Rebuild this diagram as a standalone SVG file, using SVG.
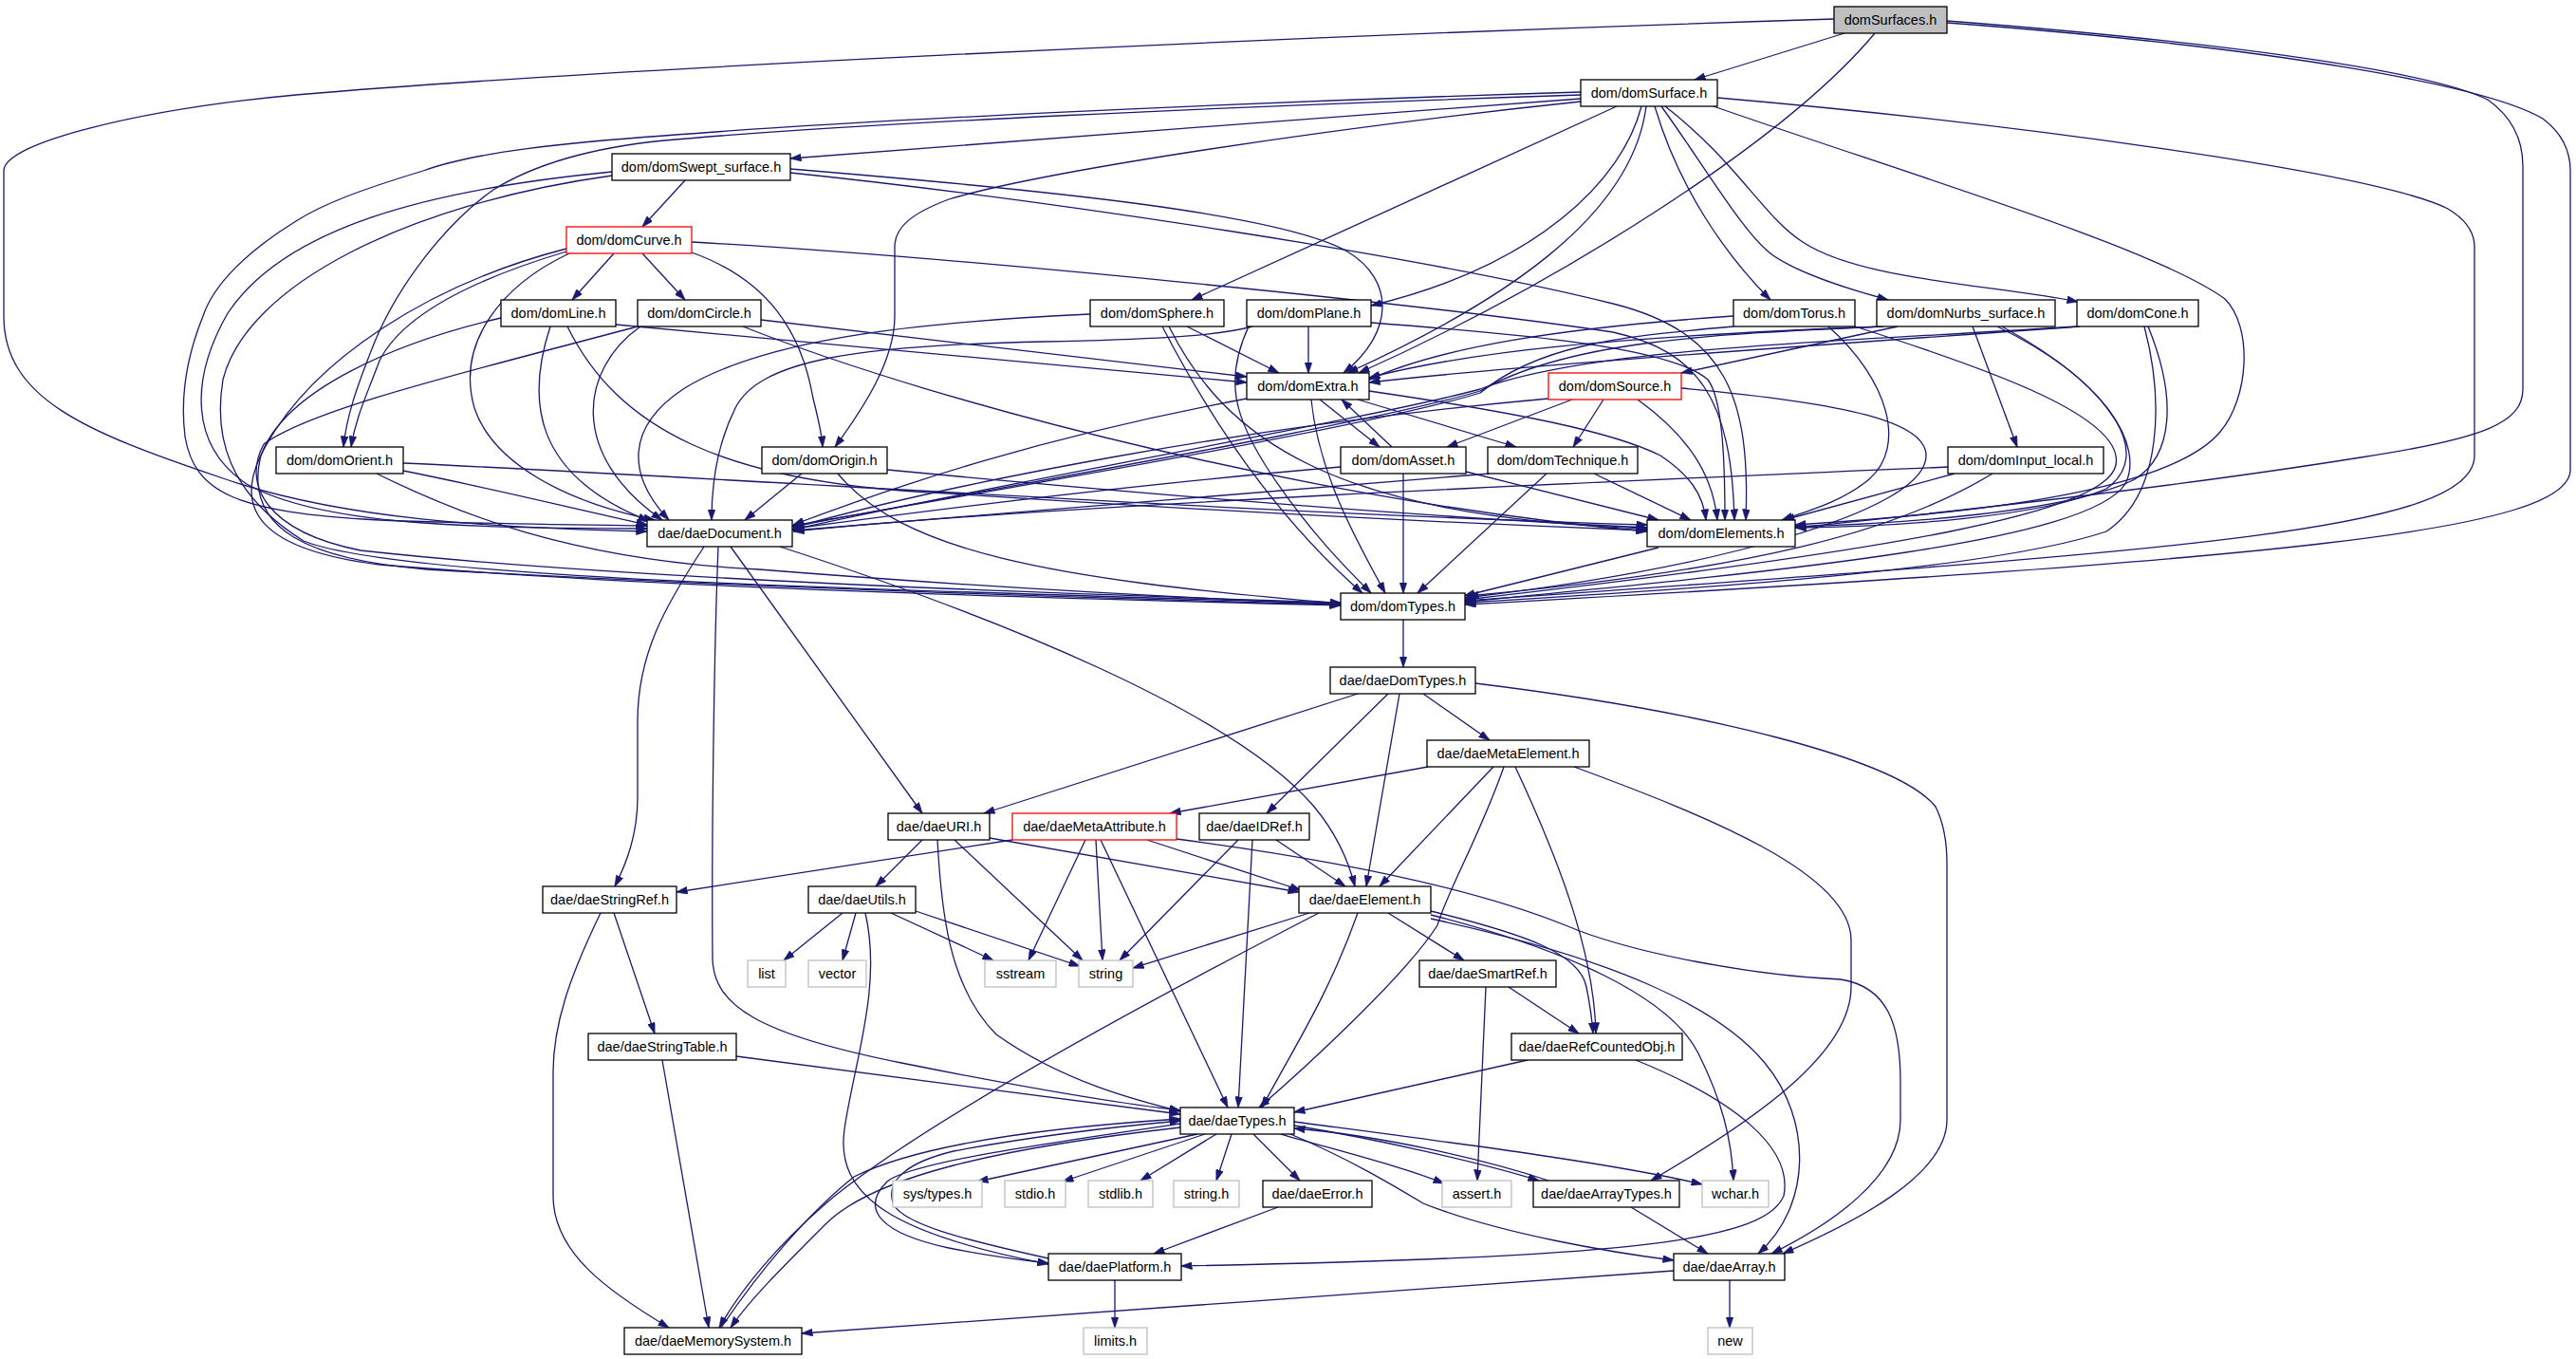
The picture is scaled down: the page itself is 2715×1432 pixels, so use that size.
<svg xmlns="http://www.w3.org/2000/svg" width="2715" height="1432" viewBox="0 0 2715 1432">
<defs>
<style>
.e{fill:none;stroke:#191970;stroke-width:1.3;marker-end:url(#a)}
.n rect{fill:#fff;stroke:#000;stroke-width:1.3}
.root rect{fill:#bfbfbf}
.red rect{stroke:#f00}
.sys rect{stroke:#bfbfbf}
text{font-family:"Liberation Sans",Arial,Helvetica,sans-serif;font-size:14.5px;text-anchor:middle;fill:#000}
</style>
<marker id="a" viewBox="0 0 12 8" refX="11.5" refY="4" markerWidth="12" markerHeight="8" markerUnits="userSpaceOnUse" orient="auto"><path d="M0,0 L12,4 L0,8 z" fill="#191970" stroke="#191970" stroke-width="0.5"/></marker>
</defs>
<rect width="2715" height="1432" fill="#fff"/>
<g id="edges">
<path class="e" d="M1944,35 L1786,84"/>
<path class="e" d="M1976,35 C1880,150 1640,300 1432,393"/>
<path class="e" d="M1933,20 C1300,40 600,75 312,100 C150,115 4,150 4,180 L4,333 C4,420 90,455 232,503 C360,548 520,556 682,560"/>
<path class="e" d="M2052,22 C2350,45 2560,75 2622,105 C2650,125 2659,150 2659,175 L2659,410 C2659,445 2620,462 2488,482 C2300,512 2050,540 1892,556"/>
<path class="e" d="M2052,24 C2400,50 2620,90 2680,125 C2700,140 2709,160 2709,180 L2709,495 C2709,560 2400,590 1544,637"/>
<path class="e" d="M1666,104 C1400,125 1100,145 833,167"/>
<path class="e" d="M1666,107 C1400,135 1100,180 1000,210 C960,225 943,240 943,260 L943,333 C943,380 910,430 880,471"/>
<path class="e" d="M1666,100 C1300,112 900,130 700,148 C620,156 560,175 520,200 C470,235 420,300 395,360 C375,410 365,440 362,471"/>
<path class="e" d="M1666,97 C1300,108 900,127 700,143 C600,150 500,160 446,180 C380,200 340,215 312,233 C260,265 225,300 214,333 C195,380 190,420 195,460 C205,520 250,540 400,548 C500,552 600,553 682,554"/>
<path class="e" d="M1704,112 L1256,316"/>
<path class="e" d="M1730,112 C1710,190 1620,280 1445,322"/>
<path class="e" d="M1735,112 C1720,230 1580,320 1420,393"/>
<path class="e" d="M1744,112 C1770,200 1820,270 1866,316"/>
<path class="e" d="M1751,112 C1800,180 1840,250 1870,270 C1900,290 1950,305 1990,316"/>
<path class="e" d="M1755,112 C1830,170 1860,230 1900,255 C1960,295 2100,300 2190,318"/>
<path class="e" d="M1810,103 C2100,128 2500,180 2580,220 C2600,232 2608,245 2608,260 L2608,480 C2608,560 2300,580 1544,633"/>
<path class="e" d="M1806,112 C2000,180 2270,260 2345,315 C2375,345 2370,420 2340,455 C2290,515 2100,540 1892,553"/>
<path class="e" d="M722,190 L677,239"/>
<path class="e" d="M833,178 C1100,200 1350,225 1420,265 C1470,295 1470,350 1416,393"/>
<path class="e" d="M833,182 C1100,210 1500,270 1700,320 C1820,350 1845,420 1840,548"/>
<path class="e" d="M645,181 C450,200 300,240 240,330 C200,400 200,470 260,510 C340,555 500,556 682,557"/>
<path class="e" d="M645,185 C430,215 260,300 235,400 C225,460 240,520 320,570 C420,610 900,620 1413,636"/>
<path class="e" d="M647,267 L603,316"/>
<path class="e" d="M677,267 L722,316"/>
<path class="e" d="M729,266 C810,295 845,350 857,420 C862,440 866,455 867,471"/>
<path class="e" d="M597,265 C480,300 420,340 400,380 C385,420 375,440 370,471"/>
<path class="e" d="M729,255 C1000,270 1500,320 1700,350 C1790,370 1825,420 1828,548"/>
<path class="e" d="M600,267 C530,300 480,360 500,430 C520,490 600,530 690,548"/>
<path class="e" d="M597,262 C450,300 330,380 280,470 C240,540 280,580 400,595 C700,620 1100,630 1413,638"/>
<path class="e" d="M580,344 C555,420 560,500 684,549"/>
<path class="e" d="M649,342 L1314,403"/>
<path class="e" d="M598,344 C650,450 760,510 1000,520 C1300,540 1500,550 1736,559"/>
<path class="e" d="M528,335 C420,360 300,410 275,480 C255,560 330,590 450,600 C800,620 1150,630 1413,637"/>
<path class="e" d="M802,337 L1314,397"/>
<path class="e" d="M783,344 C1000,430 1400,530 1736,560"/>
<path class="e" d="M675,344 C610,390 600,480 698,548"/>
<path class="e" d="M672,344 C500,390 330,430 278,468 C255,510 280,560 380,580 C650,610 1100,625 1413,635"/>
<path class="e" d="M425,496 C520,515 600,535 682,553"/>
<path class="e" d="M425,488 C800,505 1300,540 1736,553"/>
<path class="e" d="M397,499 C480,540 600,590 800,600 C1050,620 1250,630 1413,637"/>
<path class="e" d="M845,499 L785,548"/>
<path class="e" d="M935,495 C1200,520 1500,545 1736,556"/>
<path class="e" d="M883,499 C950,580 1100,610 1413,636"/>
<path class="e" d="M1149,331 C950,340 800,360 720,410 C660,450 660,500 705,548"/>
<path class="e" d="M1251,344 L1348,393"/>
<path class="e" d="M1225,344 C1280,450 1350,550 1436,625"/>
<path class="e" d="M1232,344 C1290,460 1400,545 1736,557"/>
<path class="e" d="M1379,344 L1379,393"/>
<path class="e" d="M1316,344 C1290,400 1300,440 1340,500 C1380,560 1420,600 1445,625"/>
<path class="e" d="M1445,340 C1600,352 1760,365 1800,400 C1815,420 1818,480 1818,548"/>
<path class="e" d="M1320,344 C1280,355 1200,358 1100,360 C900,364 800,380 775,430 C755,470 750,510 750,548"/>
<path class="e" d="M1827,333 C1650,345 1520,365 1443,400"/>
<path class="e" d="M1827,344 C1700,355 1620,365 1560,414 C1450,448 1100,508 835,554"/>
<path class="e" d="M1927,344 C1990,400 2010,470 1970,505 C1940,530 1900,540 1878,548"/>
<path class="e" d="M1955,344 C2100,390 2240,440 2230,490 C2220,540 2000,580 1544,632"/>
<path class="e" d="M2000,344 L1772,393"/>
<path class="e" d="M2079,344 L2126,471"/>
<path class="e" d="M1983,344 C1700,355 1550,370 1443,398"/>
<path class="e" d="M1985,344 C1800,352 1650,360 1560,412 C1450,445 1100,505 835,555"/>
<path class="e" d="M2105,344 C2220,400 2260,470 2240,510 C2200,570 1900,600 1544,634"/>
<path class="e" d="M2110,344 C2230,410 2270,480 2220,515 C2150,545 2000,555 1892,556"/>
<path class="e" d="M2192,344 C1900,365 1600,385 1443,403"/>
<path class="e" d="M2189,344 C1950,360 1680,365 1560,410 C1450,440 1100,500 835,558"/>
<path class="e" d="M2260,344 C2280,420 2280,520 2220,560 C2100,600 1800,620 1544,635"/>
<path class="e" d="M2264,344 C2295,420 2290,480 2250,505 C2180,540 2000,552 1892,555"/>
<path class="e" d="M1391,421 L1454,471"/>
<path class="e" d="M1431,421 L1598,471"/>
<path class="e" d="M1443,412 C1600,435 1700,455 1750,480 C1780,500 1795,520 1798,548"/>
<path class="e" d="M1382,421 C1390,500 1430,570 1460,625"/>
<path class="e" d="M1314,420 C1100,460 950,510 836,553"/>
<path class="e" d="M1657,421 L1525,471"/>
<path class="e" d="M1690,421 L1658,471"/>
<path class="e" d="M1726,421 C1780,460 1805,500 1810,548"/>
<path class="e" d="M1772,409 C1950,425 2030,445 2030,480 C2030,540 1800,600 1544,630"/>
<path class="e" d="M1632,420 C1300,450 1000,510 836,556"/>
<path class="e" d="M1467,471 L1414,421"/>
<path class="e" d="M1479,499 L1479,625"/>
<path class="e" d="M1545,497 L1748,548"/>
<path class="e" d="M1413,492 C1200,510 1000,535 836,557"/>
<path class="e" d="M1630,499 L1494,625"/>
<path class="e" d="M1680,499 L1782,548"/>
<path class="e" d="M1570,499 C1300,520 1050,540 836,559"/>
<path class="e" d="M2060,499 L1880,548"/>
<path class="e" d="M2100,499 C2000,560 1850,600 1547,628"/>
<path class="e" d="M2053,492 C1750,505 1100,532 836,560"/>
<path class="e" d="M1748,577 L1543,628"/>
<path class="e" d="M742,576 C700,640 672,690 672,760 L672,840 C672,880 660,910 648,934"/>
<path class="e" d="M757,576 C752,700 750,900 751,1010 C752,1060 800,1090 950,1120 C1100,1150 1200,1165 1244,1170"/>
<path class="e" d="M770,576 L972,857"/>
<path class="e" d="M822,576 C1050,650 1300,750 1385,850 C1410,880 1422,910 1428,934"/>
<path class="e" d="M1479,653 L1479,703"/>
<path class="e" d="M1431,731 L1037,857"/>
<path class="e" d="M1463,731 L1335,857"/>
<path class="e" d="M1475,731 L1440,934"/>
<path class="e" d="M1500,731 L1570,780"/>
<path class="e" d="M1555,720 C1800,750 2000,800 2040,850 C2050,870 2052,890 2052,910 L2052,1180 C2052,1240 1950,1290 1879,1321"/>
<path class="e" d="M1505,808 L1233,857"/>
<path class="e" d="M1574,808 L1454,934"/>
<path class="e" d="M1585,808 C1560,880 1525,940 1515,975 C1480,1030 1370,1130 1327,1167"/>
<path class="e" d="M1597,808 C1640,900 1680,1000 1682,1089"/>
<path class="e" d="M1659,808 C1800,860 1950,920 1951,990 L1951,1040 C1951,1110 1850,1180 1740,1244"/>
<path class="e" d="M972,885 L923,934"/>
<path class="e" d="M1006,885 L1141,1012"/>
<path class="e" d="M988,885 C992,960 1000,1040 1050,1090 C1120,1140 1200,1160 1244,1171"/>
<path class="e" d="M1043,883 L1369,940"/>
<path class="e" d="M1067,885 L713,940"/>
<path class="e" d="M1144,885 L1084,1012"/>
<path class="e" d="M1155,885 L1162,1012"/>
<path class="e" d="M1160,885 L1294,1167"/>
<path class="e" d="M1209,885 L1371,938"/>
<path class="e" d="M1240,884 C1400,905 1550,935 1650,975 C1720,1005 1850,1028 1940,1032 C1990,1040 2003,1080 2003,1140 L2003,1180 C2003,1240 1930,1290 1867,1321"/>
<path class="e" d="M1345,885 L1418,934"/>
<path class="e" d="M1305,885 L1180,1012"/>
<path class="e" d="M1320,885 L1305,1167"/>
<path class="e" d="M647,962 L690,1089"/>
<path class="e" d="M633,962 C600,1030 583,1080 583,1130 L583,1260 C583,1320 640,1360 705,1399"/>
<path class="e" d="M776,1113 L1244,1174"/>
<path class="e" d="M698,1117 L747,1399"/>
<path class="e" d="M888,962 L826,1012"/>
<path class="e" d="M902,962 L888,1012"/>
<path class="e" d="M939,962 L1047,1012"/>
<path class="e" d="M965,960 L1138,1018"/>
<path class="e" d="M912,962 C930,1040 900,1120 890,1190 C880,1260 940,1300 1105,1332"/>
<path class="e" d="M1380,962 L1194,1020"/>
<path class="e" d="M1390,962 C1200,1060 980,1180 880,1260 C820,1310 780,1360 758,1399"/>
<path class="e" d="M1431,962 C1400,1050 1360,1110 1330,1167"/>
<path class="e" d="M1463,962 L1543,1012"/>
<path class="e" d="M1508,960 C1610,985 1665,1005 1672,1040 C1676,1060 1678,1075 1679,1089"/>
<path class="e" d="M1508,964 C1650,1000 1760,1050 1790,1110 C1815,1160 1825,1200 1827,1244"/>
<path class="e" d="M1508,968 C1700,1010 1810,1060 1860,1120 C1910,1180 1910,1270 1853,1321"/>
<path class="e" d="M1566,1040 L1557,1244"/>
<path class="e" d="M1590,1040 L1664,1089"/>
<path class="e" d="M1610,1117 L1364,1172"/>
<path class="e" d="M1724,1117 C1830,1160 1890,1210 1880,1260 C1860,1310 1700,1325 1245,1334"/>
<path class="e" d="M1262,1195 L1030,1245"/>
<path class="e" d="M1270,1195 L1120,1245"/>
<path class="e" d="M1282,1195 L1202,1244"/>
<path class="e" d="M1298,1195 L1282,1244"/>
<path class="e" d="M1321,1195 L1370,1244"/>
<path class="e" d="M1350,1195 C1420,1215 1480,1230 1522,1247"/>
<path class="e" d="M1364,1186 C1450,1200 1560,1225 1622,1244"/>
<path class="e" d="M1632,1244 C1560,1220 1450,1196 1364,1189"/>
<path class="e" d="M1364,1182 C1500,1200 1700,1225 1794,1248"/>
<path class="e" d="M1360,1195 C1420,1220 1470,1250 1500,1268 C1580,1300 1700,1320 1764,1328"/>
<path class="e" d="M1244,1184 C1100,1205 960,1225 935,1245 C905,1275 930,1300 1000,1315 C1050,1325 1080,1328 1105,1331"/>
<path class="e" d="M1105,1326 C1010,1305 955,1290 942,1270 C932,1245 955,1225 1005,1213 C1100,1195 1200,1185 1244,1181"/>
<path class="e" d="M1244,1188 C1050,1210 920,1240 870,1290 C820,1340 790,1370 770,1399"/>
<path class="e" d="M760,1399 C800,1340 850,1280 900,1240 C980,1200 1150,1185 1244,1179"/>
<path class="e" d="M1347,1272 L1216,1321"/>
<path class="e" d="M1719,1272 L1800,1321"/>
<path class="e" d="M1764,1339 C1500,1360 1100,1385 845,1405"/>
<path class="e" d="M1823,1349 L1823,1399"/>
<path class="e" d="M1175,1349 L1175,1399"/>
</g>
<g id="n_domSurfaces" class="n root"><rect x="1933" y="7" width="119" height="28"/><text x="1992.5" y="26">domSurfaces.h</text></g>
<g id="n_domSurface" class="n"><rect x="1666" y="84" width="144" height="28"/><text x="1738" y="103">dom/domSurface.h</text></g>
<g id="n_domSwept_surface" class="n"><rect x="645" y="162" width="188" height="28"/><text x="739" y="181">dom/domSwept_surface.h</text></g>
<g id="n_domCurve" class="n red"><rect x="597" y="239" width="132" height="28"/><text x="663" y="258">dom/domCurve.h</text></g>
<g id="n_domLine" class="n"><rect x="528" y="316" width="121" height="28"/><text x="588.5" y="335">dom/domLine.h</text></g>
<g id="n_domCircle" class="n"><rect x="672" y="316" width="130" height="28"/><text x="737" y="335">dom/domCircle.h</text></g>
<g id="n_domSphere" class="n"><rect x="1149" y="316" width="141" height="28"/><text x="1219.5" y="335">dom/domSphere.h</text></g>
<g id="n_domPlane" class="n"><rect x="1314" y="316" width="131" height="28"/><text x="1379.5" y="335">dom/domPlane.h</text></g>
<g id="n_domTorus" class="n"><rect x="1827" y="316" width="128" height="28"/><text x="1891" y="335">dom/domTorus.h</text></g>
<g id="n_domNurbs_surface" class="n"><rect x="1978" y="316" width="188" height="28"/><text x="2072" y="335">dom/domNurbs_surface.h</text></g>
<g id="n_domCone" class="n"><rect x="2189" y="316" width="128" height="28"/><text x="2253" y="335">dom/domCone.h</text></g>
<g id="n_domExtra" class="n"><rect x="1314" y="393" width="129" height="28"/><text x="1378.5" y="412">dom/domExtra.h</text></g>
<g id="n_domSource" class="n red"><rect x="1632" y="393" width="140" height="28"/><text x="1702" y="412">dom/domSource.h</text></g>
<g id="n_domOrient" class="n"><rect x="291" y="471" width="134" height="28"/><text x="358" y="490">dom/domOrient.h</text></g>
<g id="n_domOrigin" class="n"><rect x="803" y="471" width="132" height="28"/><text x="869" y="490">dom/domOrigin.h</text></g>
<g id="n_domAsset" class="n"><rect x="1413" y="471" width="132" height="28"/><text x="1479" y="490">dom/domAsset.h</text></g>
<g id="n_domTechnique" class="n"><rect x="1568" y="471" width="158" height="28"/><text x="1647" y="490">dom/domTechnique.h</text></g>
<g id="n_domInput_local" class="n"><rect x="2053" y="471" width="164" height="28"/><text x="2135" y="490">dom/domInput_local.h</text></g>
<g id="n_daeDocument" class="n"><rect x="682" y="548" width="153" height="28"/><text x="758.5" y="567">dae/daeDocument.h</text></g>
<g id="n_domElements" class="n"><rect x="1736" y="548" width="156" height="28"/><text x="1814" y="567">dom/domElements.h</text></g>
<g id="n_domTypes" class="n"><rect x="1413" y="625" width="131" height="28"/><text x="1478.5" y="644">dom/domTypes.h</text></g>
<g id="n_daeDomTypes" class="n"><rect x="1402" y="703" width="153" height="28"/><text x="1478.5" y="722">dae/daeDomTypes.h</text></g>
<g id="n_daeMetaElement" class="n"><rect x="1504" y="780" width="171" height="28"/><text x="1589.5" y="799">dae/daeMetaElement.h</text></g>
<g id="n_daeURI" class="n"><rect x="936" y="857" width="107" height="28"/><text x="989.5" y="876">dae/daeURI.h</text></g>
<g id="n_daeMetaAttribute" class="n red"><rect x="1067" y="857" width="173" height="28"/><text x="1153.5" y="876">dae/daeMetaAttribute.h</text></g>
<g id="n_daeIDRef" class="n"><rect x="1264" y="857" width="116" height="28"/><text x="1322" y="876">dae/daeIDRef.h</text></g>
<g id="n_daeStringRef" class="n"><rect x="572" y="934" width="141" height="28"/><text x="642.5" y="953">dae/daeStringRef.h</text></g>
<g id="n_daeUtils" class="n"><rect x="852" y="934" width="113" height="28"/><text x="908.5" y="953">dae/daeUtils.h</text></g>
<g id="n_daeElement" class="n"><rect x="1369" y="934" width="139" height="28"/><text x="1438.5" y="953">dae/daeElement.h</text></g>
<g id="n_list" class="n sys"><rect x="788" y="1012" width="40" height="28"/><text x="808" y="1031">list</text></g>
<g id="n_vector" class="n sys"><rect x="852" y="1012" width="61" height="28"/><text x="882.5" y="1031">vector</text></g>
<g id="n_sstream" class="n sys"><rect x="1038" y="1012" width="75" height="28"/><text x="1075.5" y="1031">sstream</text></g>
<g id="n_string" class="n sys"><rect x="1137" y="1012" width="57" height="28"/><text x="1165.5" y="1031">string</text></g>
<g id="n_daeSmartRef" class="n"><rect x="1496" y="1012" width="144" height="28"/><text x="1568" y="1031">dae/daeSmartRef.h</text></g>
<g id="n_daeRefCountedObj" class="n"><rect x="1593" y="1089" width="180" height="28"/><text x="1683" y="1108">dae/daeRefCountedObj.h</text></g>
<g id="n_daeStringTable" class="n"><rect x="620" y="1089" width="156" height="28"/><text x="698" y="1108">dae/daeStringTable.h</text></g>
<g id="n_daeTypes" class="n"><rect x="1244" y="1167" width="120" height="28"/><text x="1304" y="1186">dae/daeTypes.h</text></g>
<g id="n_sys_types" class="n sys"><rect x="941" y="1244" width="94" height="28"/><text x="988" y="1263">sys/types.h</text></g>
<g id="n_stdio" class="n sys"><rect x="1059" y="1244" width="64" height="28"/><text x="1091" y="1263">stdio.h</text></g>
<g id="n_stdlib" class="n sys"><rect x="1147" y="1244" width="68" height="28"/><text x="1181" y="1263">stdlib.h</text></g>
<g id="n_string_h" class="n sys"><rect x="1237" y="1244" width="69" height="28"/><text x="1271.5" y="1263">string.h</text></g>
<g id="n_daeError" class="n"><rect x="1331" y="1244" width="115" height="28"/><text x="1388.5" y="1263">dae/daeError.h</text></g>
<g id="n_assert" class="n sys"><rect x="1520" y="1244" width="73" height="28"/><text x="1556.5" y="1263">assert.h</text></g>
<g id="n_daeArrayTypes" class="n"><rect x="1616" y="1244" width="154" height="28"/><text x="1693" y="1263">dae/daeArrayTypes.h</text></g>
<g id="n_wchar" class="n sys"><rect x="1794" y="1244" width="70" height="28"/><text x="1829" y="1263">wchar.h</text></g>
<g id="n_daePlatform" class="n"><rect x="1105" y="1321" width="140" height="28"/><text x="1175" y="1340">dae/daePlatform.h</text></g>
<g id="n_daeArray" class="n"><rect x="1764" y="1321" width="117" height="28"/><text x="1822.5" y="1340">dae/daeArray.h</text></g>
<g id="n_daeMemorySystem" class="n"><rect x="658" y="1399" width="187" height="28"/><text x="751.5" y="1418">dae/daeMemorySystem.h</text></g>
<g id="n_limits" class="n sys"><rect x="1142" y="1399" width="67" height="28"/><text x="1175.5" y="1418">limits.h</text></g>
<g id="n_new" class="n sys"><rect x="1800" y="1399" width="47" height="28"/><text x="1823.5" y="1418">new</text></g>
</svg>
